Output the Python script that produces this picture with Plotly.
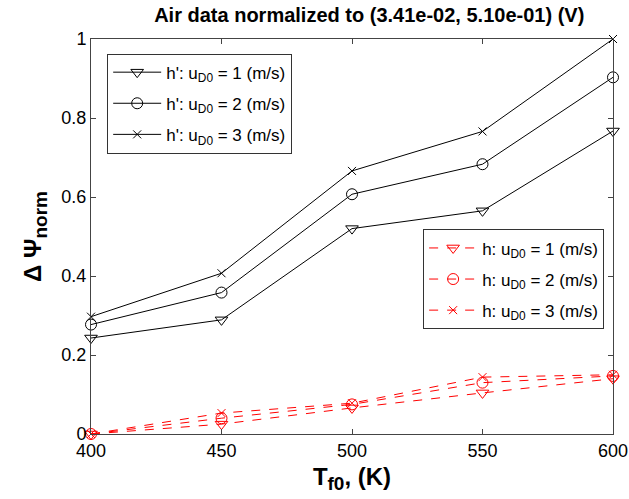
import plotly.graph_objects as go

T = [400, 450, 500, 550, 600]
hp_u1 = [0.243, 0.289, 0.520, 0.565, 0.767]
hp_u2 = [0.277, 0.358, 0.607, 0.683, 0.903]
hp_u3 = [0.297, 0.407, 0.666, 0.766, 1.000]
h_u1 = [0.000, 0.025, 0.066, 0.104, 0.140]
h_u2 = [0.000, 0.040, 0.075, 0.130, 0.147]
h_u3 = [0.000, 0.053, 0.078, 0.144, 0.150]

fig = go.Figure()
syms = ["triangle-down-open", "circle-open", "x-thin-open"]
for i, (ys, sym) in enumerate(zip([hp_u1, hp_u2, hp_u3], syms)):
    fig.add_trace(go.Scatter(
        x=T, y=ys, mode="lines+markers",
        name=f"h': u<sub>D0</sub> = {i+1} (m/s)",
        legendgroup=f"a{i}",
        line=dict(color="black", width=1),
        marker=dict(symbol=sym, size=11 if i < 2 else 8, color="black",
                    line=dict(color="black", width=1)),
        legend="legend", cliponaxis=False))
for i, (ys, sym) in enumerate(zip([h_u1, h_u2, h_u3], syms)):
    fig.add_trace(go.Scatter(
        x=T, y=ys, mode="lines+markers",
        name=f"h: u<sub>D0</sub> = {i+1} (m/s)",
        legendgroup=f"b{i}",
        line=dict(color="red", width=1, dash="dash"),
        marker=dict(symbol=sym, size=11 if i < 2 else 8, color="red",
                    line=dict(color="red", width=1)),
        legend="legend2", cliponaxis=False))

axis_common = dict(showgrid=False, zeroline=False, showline=True, mirror="ticks",
                   linecolor="#444", linewidth=1, ticks="inside", ticklen=5,
                   tickcolor="#444", ticklabeloverflow="allow", automargin=False,
                   tickfont=dict(size=18, color="black",
                                 family="Liberation Sans, Arial"))
fig.update_layout(
    width=629, height=499,
    margin=dict(l=91, r=16, t=39, b=65, autoexpand=False),
    paper_bgcolor="white", plot_bgcolor="white",
    font=dict(family="Liberation Sans, Arial", color="black"),
    title=dict(text="<b>Air data normalized to (3.41e-02, 5.10e-01) (V)</b>",
               x=0.533, xanchor="center", y=0.970, yanchor="middle",
               xref="paper", font=dict(size=20)),
    xaxis=dict(range=[400, 600], tickvals=[400, 450, 500, 550, 600],
               title=dict(text="<b>T<sub><span style='font-size:19px'>f0</span></sub>, (K)</b>",
                          font=dict(size=24), standoff=8),
               **axis_common),
    yaxis=dict(range=[0, 1], tickvals=[0, 0.2, 0.4, 0.6, 0.8, 1],
               ticktext=["0", "0.2", "0.4", "0.6", "0.8", "1"],
               title=dict(text="<b>Δ Ψ<sub><span style='font-size:19px'>norm</span></sub></b>",
                          font=dict(size=24), standoff=12),
               **axis_common),
    legend=dict(x=0.031, y=0.963, xanchor="left", yanchor="top",
                bordercolor="#333", borderwidth=1, bgcolor="white",
                font=dict(size=17), itemwidth=48, tracegroupgap=6),
    legend2=dict(x=0.983, y=0.518, xanchor="right", yanchor="top",
                 bordercolor="#333", borderwidth=1, bgcolor="white",
                 font=dict(size=17), itemwidth=48, tracegroupgap=6),
    showlegend=True,
)

fig.write_html("out.html", config={"displayModeBar": False})
with open("out.html", encoding="utf-8") as f:
    html = f.read()
html = html.replace("<head>", "<head><style>html,body{margin:0;padding:0;overflow:hidden}</style>", 1)
with open("out.html", "w", encoding="utf-8") as f:
    f.write(html)
